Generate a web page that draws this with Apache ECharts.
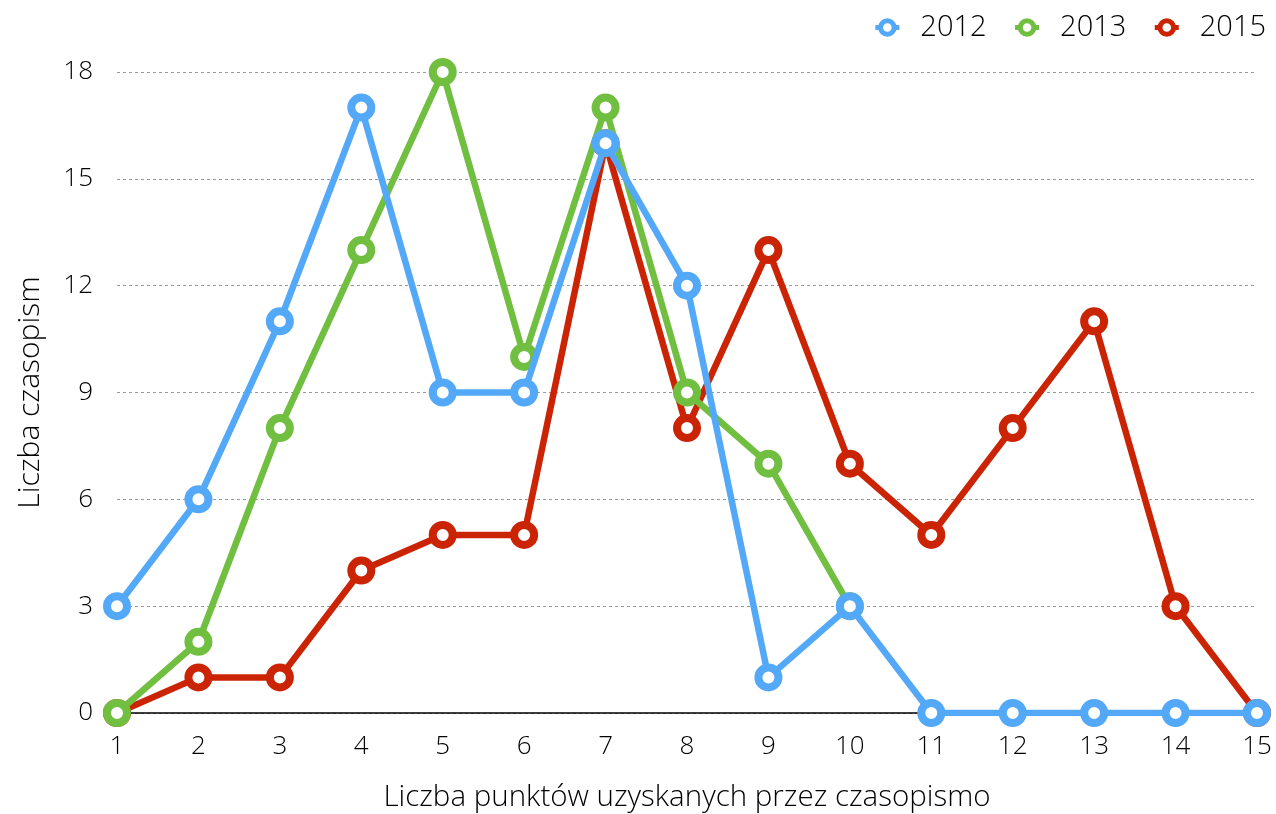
<!DOCTYPE html>
<html><head><meta charset="utf-8">
<script src="https://cdn.jsdelivr.net/npm/echarts@6/dist/echarts.min.js"></script>
<style>html,body{margin:0;padding:0;background:#fff}#c{width:1276px;height:814px}</style>
</head><body><div id="c"></div>
<script>
const categories = ['1','2','3','4','5','6','7','8','9','10','11','12','13','14','15'];
const s2012 = [3, 6, 11, 17, 9, 9, 16, 12, 1, 3, 0, 0, 0, 0, 0];
const s2013 = [0, 2, 8, 13, 18, 10, 17, 9, 7, 3, null, null, null, null, null];
const s2015 = [0, 1, 1, 4, 5, 5, 16, 8, 13, 7, 5, 8, 11, 3, 0];
const yTicks = [0, 3, 6, 9, 12, 15, 18];
const xTitle = 'Liczba punktów uzyskanych przez czasopismo';
const yTitle = 'Liczba czasopism';

const FONT = '"Open Sans"';
const colors = {'2012': '#53a9f8', '2013': '#71bf41', '2015': '#cb2405'};
function mk(name, data, z) {
  return {
    name, type: 'line', data, z,
    symbol: 'circle', symbolSize: 20, showSymbol: true,
    lineStyle: {width: 6.5, color: colors[name]},
    itemStyle: {color: '#fff', borderColor: colors[name], borderWidth: 8},
    emphasis: {disabled: true}, animation: false
  };
}
const chart = echarts.init(document.getElementById('c'));
chart.setOption({
  animation: false,
  textStyle: {fontFamily: FONT, fontWeight: 300, color: '#000'},
  legend: {
    data: ['2012', '2013', '2015'], right: 5, top: 8, itemGap: 26,
    itemWidth: 24, itemHeight: 17,
    lineStyle: {width: 5},
    itemStyle: {borderWidth: 5},
    textStyle: {fontSize: 29, fontFamily: FONT, fontWeight: 300, color: '#000', padding: [0, 0, 0, 16]}
  },
  grid: {left: 117, right: 19, top: 72, bottom: 101, containLabel: false, outerBoundsMode: 'none'},
  xAxis: {
    type: 'category', data: categories, boundaryGap: false,
    name: xTitle, nameLocation: 'middle', nameGap: 70,
    nameTextStyle: {fontSize: 29.5, fontFamily: FONT, fontWeight: 300, color: '#000'},
    axisLine: {lineStyle: {color: '#000', width: 1.5}},
    axisTick: {show: false},
    axisLabel: {fontSize: 26, margin: 21, color: '#000', fontFamily: FONT, fontWeight: 300},
    splitLine: {show: false}
  },
  yAxis: {
    type: 'value', min: 0, max: 18, interval: 3,
    name: yTitle, nameLocation: 'middle', nameGap: 72,
    nameTextStyle: {fontSize: 30, fontFamily: FONT, fontWeight: 300, color: '#000'},
    axisLine: {show: false}, axisTick: {show: false},
    axisLabel: {fontSize: 26, margin: 24, color: '#000', fontFamily: FONT, fontWeight: 300,
      formatter: v => yTicks.includes(v) ? String(v) : ''},
    splitLine: {lineStyle: {color: '#9a9a9a', type: [3, 3], width: 1}}
  },
  series: [mk('2015', s2015, 2), mk('2013', s2013, 3), mk('2012', s2012, 4)]
});
</script></body></html>
